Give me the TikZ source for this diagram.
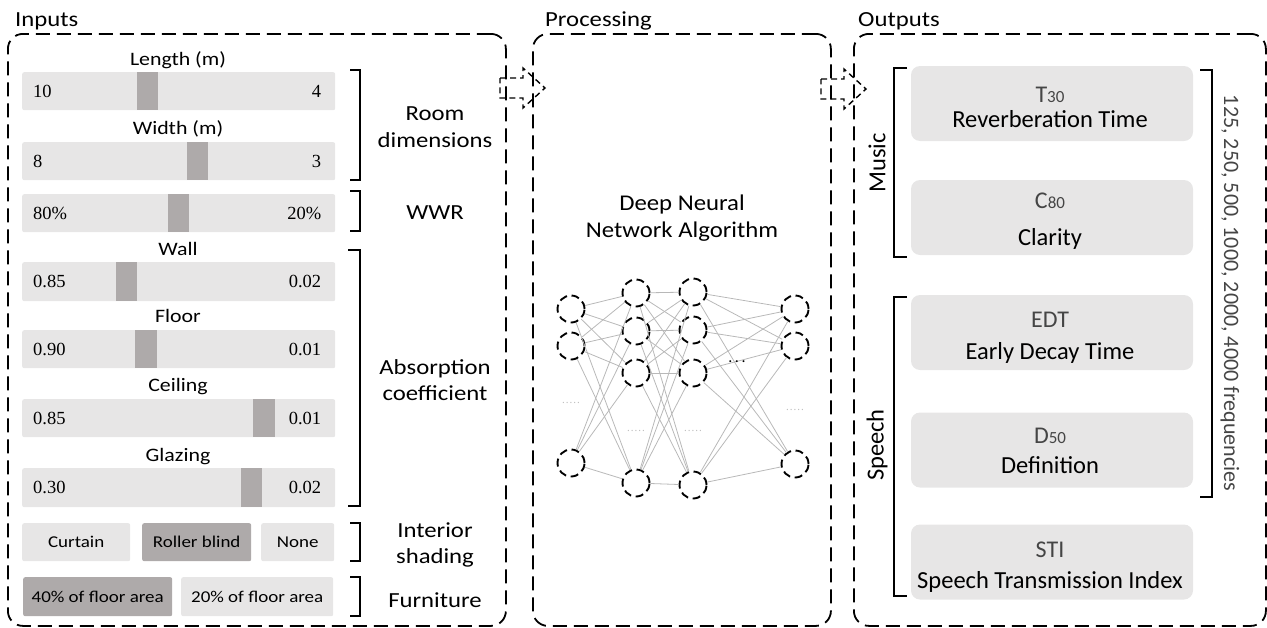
\documentclass[tikz,border=0pt]{standalone}
\usepackage{fontspec}
\setmainfont{Carlito}
\newfontfamily\wideA{Carlito}[FakeStretch=1.15]
\newfontfamily\wideB{Carlito}[FakeStretch=1.1]
\newfontfamily\serifnum{Liberation Serif}
\usetikzlibrary{calc}
\definecolor{barbg}{HTML}{E7E6E6}
\definecolor{knob}{HTML}{AEAAAA}
\definecolor{netline}{HTML}{B8B8B8}
\definecolor{lighttext}{HTML}{454545}
\definecolor{dotgray}{HTML}{BDBDBD}
\tikzset{
  frame/.style={draw, line width=1.8pt, dash pattern=on 14pt off 7pt, rounded corners=15pt, anchor=north west, inner sep=0pt},
  title/.style={anchor=base west, inner sep=0pt, font=\wideA\fontsize{21.5}{24}\selectfont},
  bar/.style={fill=barbg, rounded corners=2pt, minimum width=313pt, inner sep=0pt},
  knobbox/.style={fill=knob, inner sep=0pt, anchor=north west},
  barlabel/.style={anchor=base, inner sep=0pt, font=\wideA\fontsize{19}{22}\selectfont},
  num/.style={inner sep=0pt, font=\serifnum\fontsize{18.5}{20}\selectfont},
  btn/.style={inner sep=0pt, rounded corners=2pt, anchor=north west, font=\wideA\fontsize{16.5}{19}\selectfont},
  group/.style={align=center, inner sep=0pt, font=\wideA\fontsize{21.5}{26.5}\selectfont},
  brk/.style={line width=1.4pt},
  neuron/.style={circle, draw, line width=1.9pt, dash pattern=on 8pt off 4.6pt, minimum size=27pt, inner sep=0pt},
  conn/.style={draw=netline, line width=0.8pt},
  outbox/.style={fill=barbg, rounded corners=9pt, minimum width=282pt, minimum height=75pt, inner sep=0pt},
  sym/.style={anchor=base, inner sep=0pt, text=lighttext, font=\fontsize{24}{28}\selectfont},
  desc/.style={anchor=base, inner sep=0pt, font=\fontsize{24.5}{28}\selectfont},
  blockarr/.style={line width=1.4pt, dash pattern=on 6pt off 4pt},
  dotsg/.style={inner sep=0pt, text=dotgray, font=\fontsize{9}{9}\selectfont},
  side/.style={inner sep=0pt, font=\fontsize{24.5}{28}\selectfont},
}
\newcommand{\slider}[7]{%
  \node[bar, minimum height={(#3-#2)*1pt}, anchor=north west] (#1) at (22,#2) {};
  \node[knobbox, minimum width={(#5-#4)*1pt}, minimum height={(#3-#2)*1pt}] (#1k) at (#4,#2) {};
  \node[num, anchor=west] (#1a) at ([xshift=11pt]#1.west) {#6};
  \node[num, anchor=east] (#1b) at ([xshift=-14pt]#1.east) {#7};
}
\newcommand{\blockarrow}[2]{%
  \draw[blockarr] (#1,#2-10) -- ++(23,0) -- ++(0,-10) -- ++(22,20) -- ++(-22,20) -- ++(0,-10) -- ++(-23,0) -- cycle;
}
\newcommand{\sm}[1]{{\fontsize{17}{17}\selectfont #1}}
\begin{document}
\begin{tikzpicture}[x=1pt,y=-1pt]
\useasboundingbox (0,0) rectangle (1267,627);
% frames
\node[frame, minimum width=498pt, minimum height=592pt] (inframe) at (7,33) {};
\node[frame, minimum width=298pt, minimum height=592pt] (procframe) at (532,33) {};
\node[frame, minimum width=412pt, minimum height=592pt] (outframe) at (853,33) {};
\node[title] (tin) at (15,26) {Inputs};
\node[title] (tproc) at (545,26) {Processing};
\node[title] (tout) at (858,26) {Outputs};
% block arrows
\blockarrow{500}{88}
\blockarrow{821}{89}
% sliders
\slider{len}{72}{110}{137}{158}{10}{4}
\slider{wid}{142}{180}{187}{208}{8}{3}
\slider{wwr}{194}{232}{168}{189}{80\%}{20\%}
\slider{wall}{262}{301}{116}{137}{0.85}{0.02}
\slider{floor}{330}{368}{135}{157}{0.90}{0.01}
\slider{ceil}{399}{437}{253}{275}{0.85}{0.01}
\slider{glaz}{468}{507}{241}{262}{0.30}{0.02}
\node[barlabel] (lenlab) at (178,65) {Length (m)};
\node[barlabel] (widlab) at (178,134) {Width (m)};
\node[barlabel] (walllab) at (178,255) {Wall};
\node[barlabel] (floorlab) at (178,322) {Floor};
\node[barlabel] (ceillab) at (178,391) {Ceiling};
\node[barlabel] (glazlab) at (178,461) {Glazing};
% buttons
\node[btn, fill=barbg, minimum width=108pt, minimum height=38pt] (curtain) at (22,523) {Curtain};
\node[btn, fill=knob, minimum width=109pt, minimum height=38pt] (roller) at (142,523) {Roller blind};
\node[btn, fill=barbg, minimum width=73pt, minimum height=38pt] (none) at (261,523) {None};
\node[btn, fill=knob, minimum width=149pt, minimum height=39pt] (f40) at (23,577) {40\% of floor area};
\node[btn, fill=barbg, minimum width=152pt, minimum height=39pt] (f20) at (181,577) {20\% of floor area};
% brackets left
\draw[brk] (350,70) -- (360,70) -- (360,180) -- (350,180);
\draw[brk] (350,191) -- (360,191) -- (360,231) -- (350,231);
\draw[brk] (348,250) -- (360,250) -- (360,506) -- (348,506);
\draw[brk] (350,523) -- (360,523) -- (360,561) -- (350,561);
\draw[brk] (350,577) -- (360,577) -- (360,616) -- (350,616);
% group labels
\node[group] (roomdim) at (435,127) {Room\\dimensions};
\node[group] (wwrlab) at (435,213) {WWR};
\node[group] (abslab) at (435,380) {Absorption\\coefficient};
\node[group] (shadlab) at (435,545) {Interior\\shading};
\node[group] (furnlab) at (435,600) {Furniture};
% processing
\node[align=center, inner sep=0pt, font=\wideB\fontsize{22.5}{27}\selectfont] (dnn) at (682,218) {Deep Neural\\Network Algorithm};
\foreach \n/\x/\y in {a1/571/309, a2/571/346, a3/571/463,
                     b1/636/293, b2/636/331, b3/636/373, b4/636/483,
                     c1/693/292, c2/693/330, c3/693/373, c4/693/485,
                     d1/795/309, d2/795/346, d3/795/464}
  \node[neuron] (\n) at (\x,\y) {};
\foreach \i in {a1,a2,a3} \foreach \j in {b1,b2,b3,b4} \draw[conn] (\i) -- (\j);
\foreach \i in {b1,b2,b3,b4} \foreach \j in {c1,c2,c3,c4} \draw[conn] (\i) -- (\j);
\foreach \i in {c1,c2,c3,c4} \foreach \j in {d1,d2,d3} \draw[conn] (\i) -- (\j);
\node[dotsg] (e1) at (571,404) {·\,·\,·\,·\,·};
\node[dotsg] (e2) at (636,432) {·\,·\,·\,·\,·};
\node[dotsg] (e3) at (693,432) {·\,·\,·\,·\,·};
\node[dotsg] (e4) at (795,411) {·\,·\,·\,·\,·};
\node[inner sep=0pt, font=\fontsize{16}{16}\selectfont] (e5) at (737,362) {.\,.\,.};
% outputs
\node[outbox] (t30) at (1052,103.5) {};
\node[outbox] (c80) at (1052,217.5) {};
\node[outbox] (edt) at (1052,332.5) {};
\node[outbox] (d50) at (1052,450) {};
\node[outbox] (sti) at (1052,562) {};
\node[sym] (t30s) at (1050,102) {T\sm{30}};
\node[desc] (t30d) at (1050,127) {Reverberation Time};
\node[sym] (c80s) at (1050,208) {C\sm{80}};
\node[desc] (c80d) at (1050,245) {Clarity};
\node[sym] (edts) at (1050,327) {EDT};
\node[desc] (edtd) at (1050,359) {Early Decay Time};
\node[sym] (d50s) at (1050,443) {D\sm{50}};
\node[desc] (d50d) at (1050,473) {Definition};
\node[sym] (stis) at (1050,557) {STI};
\node[desc] (stid) at (1050,588) {Speech Transmission Index};
% right brackets
\draw[brk] (907,68) -- (894,68) -- (894,257) -- (907,257);
\draw[brk] (907,297) -- (894,297) -- (894,596) -- (907,596);
\draw[brk] (1200,70) -- (1212,70) -- (1212,497) -- (1200,497);
\node[side, rotate=90] (music) at (877,163) {Music};
\node[side, rotate=90] (speech) at (877,445) {Speech};
\node[inner sep=0pt, rotate=-90, text=lighttext, font=\fontsize{22}{24}\selectfont] (freq) at (1230,293) {125, 250, 500, 1000, 2000, 4000 frequencies};
\end{tikzpicture}
\end{document}
